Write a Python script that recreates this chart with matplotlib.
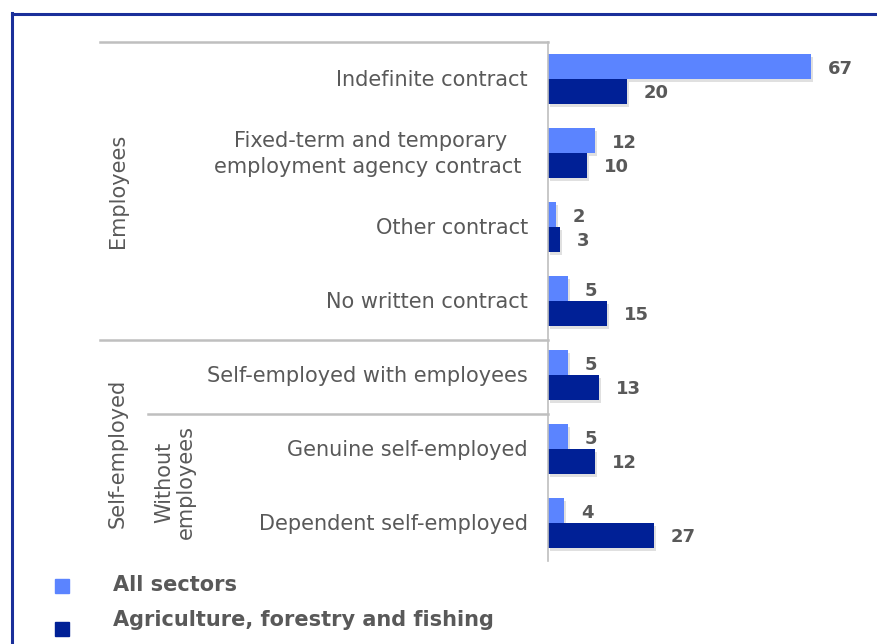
import matplotlib
matplotlib.use("Agg")
import matplotlib.pyplot as plt
import matplotlib.patheffects as pe
from matplotlib.lines import Line2D
from matplotlib.patches import Rectangle

categories = [
    "Indefinite contract",
    "Fixed-term and temporary\nemployment agency contract ",
    "Other contract",
    "No written contract",
    "Self-employed with employees",
    "Genuine self-employed",
    "Dependent self-employed",
]
all_sectors = [67, 12, 2, 5, 5, 5, 4]
agriculture = [20, 10, 3, 15, 13, 12, 27]
series_names = ["All sectors", "Agriculture, forestry and fishing"]

LIGHT = "#5B84FF"
DARK = "#002096"
TEXT = "#595959"
GRID = "#BFBFBF"
FONT = "DejaVu Sans"

W, H = 877, 644
fig = plt.figure(figsize=(W / 100, H / 100), dpi=100)

def fx(px):
    return px / W

def fy(py):
    return 1 - py / H

# plot area: zero line at x=548 px, top 42 px, bottom 560 px
ax = fig.add_axes([fx(548), fy(560), fx(W - 548), fy(42) - fy(560)])
n = len(categories)
ax.set_ylim(n - 0.5, -0.5)
ax.set_xlim(0, (W - 548) / 3.925)
ax.axis("off")

shadow = [pe.SimplePatchShadow(offset=(1.5, -2.0), shadow_rgbFace="#000000", alpha=0.12), pe.Normal()]
bh = 0.335
ys = list(range(n))
ax.barh([y - bh / 2 for y in ys], all_sectors, height=bh, color=LIGHT, path_effects=shadow, zorder=3)
ax.barh([y + bh / 2 for y in ys], agriculture, height=bh, color=DARK, path_effects=shadow, zorder=3)

for y, v in zip(ys, all_sectors):
    ax.annotate(str(v), (v, y - bh / 2), xytext=(17, -2), textcoords="offset pixels",
                ha="left", va="center", fontsize=13, fontweight="bold", color=TEXT, family=FONT)
for y, v in zip(ys, agriculture):
    ax.annotate(str(v), (v, y + bh / 2), xytext=(17, -2), textcoords="offset pixels",
                ha="left", va="center", fontsize=13, fontweight="bold", color=TEXT, family=FONT)

# category labels
for y, lab in zip(ys, categories):
    ax.annotate(lab, (0, y), xytext=(-20, -1), textcoords="offset pixels",
                ha="right", va="center", multialignment="center", fontsize=15,
                color=TEXT, family=FONT, linespacing=1.32)

# vertical axis line and hierarchy separators
fig.add_artist(Line2D([fx(548), fx(548)], [fy(42), fy(561)], color=GRID, lw=1.2))
fig.add_artist(Line2D([fx(100), fx(548)], [fy(42), fy(42)], color=GRID, lw=1.8))
fig.add_artist(Line2D([fx(100), fx(548)], [fy(340), fy(340)], color=GRID, lw=1.8))
fig.add_artist(Line2D([fx(148), fx(548)], [fy(414), fy(414)], color=GRID, lw=1.8))

# group labels
fig.text(fx(118), fy(191), "Employees", rotation=90, ha="center", va="center",
         fontsize=15, color=TEXT, family=FONT)
fig.text(fx(118), fy(453), "Self-employed", rotation=90, ha="center", va="center",
         fontsize=15, color=TEXT, family=FONT)
fig.text(fx(175), fy(482), "Without\nemployees", rotation=90, ha="center", va="center",
         multialignment="center", fontsize=15, color=TEXT, family=FONT, linespacing=1.05)

# legend
for py, name, col in [(586, series_names[0], LIGHT), (629, series_names[1], DARK)]:
    fig.add_artist(Rectangle((fx(55), fy(py + 7)), fx(14), fy(py - 7) - fy(py + 7), color=col))
fig.text(fx(113), fy(585), series_names[0], ha="left", va="center", fontsize=15,
         fontweight="bold", color=TEXT, family=FONT)
fig.text(fx(113), fy(620), series_names[1], ha="left", va="center", fontsize=15,
         fontweight="bold", color=TEXT, family=FONT)

# outer frame
fig.add_artist(Line2D([fx(12), fx(12)], [fy(13), 0], color="#1A2F9A", lw=2.2))
fig.add_artist(Line2D([fx(12), 1], [fy(13.5), fy(13.5)], color="#1A2F9A", lw=2.2))

fig.savefig("out.png", dpi=100, facecolor="white")
